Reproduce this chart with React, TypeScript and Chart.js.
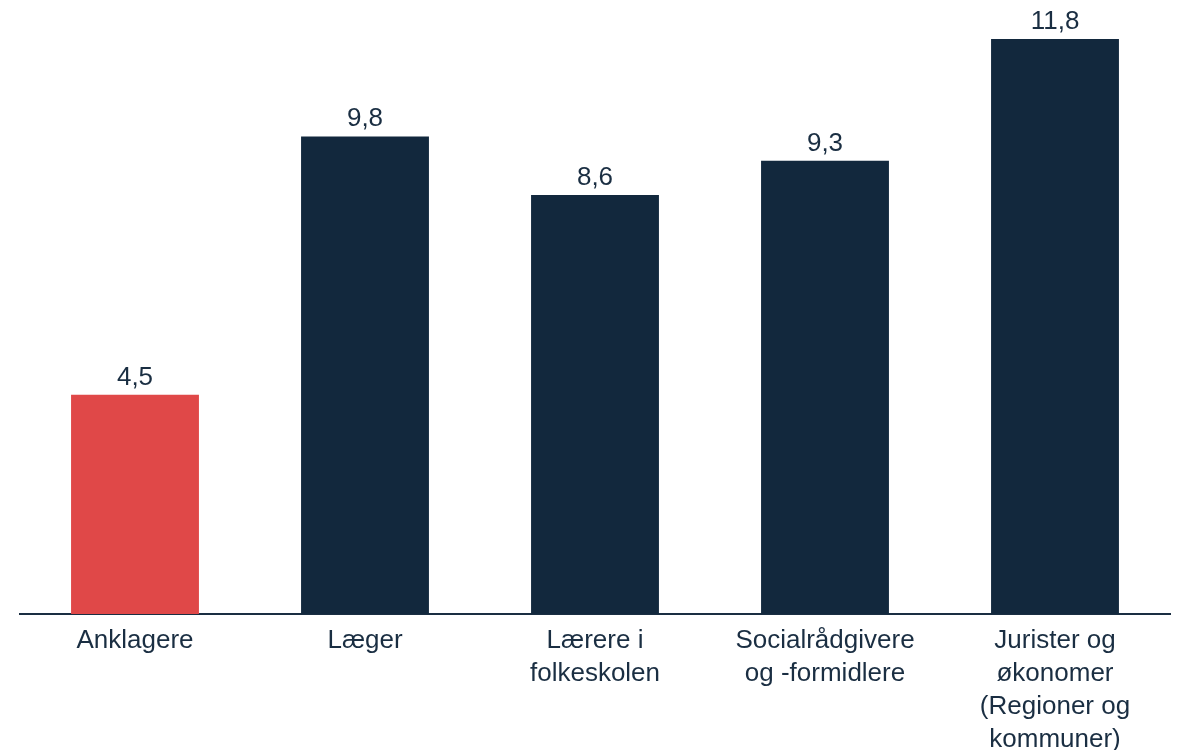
import React, { useEffect, useRef } from "react";
import { Chart, registerables } from "chart.js";

Chart.register(...registerables);

const categories: string[][] = [
  ["Anklagere"],
  ["Læger"],
  ["Lærere i", "folkeskolen"],
  ["Socialrådgivere", "og -formidlere"],
  ["Jurister og", "økonomer", "(Regioner og", "kommuner)"],
];
const values: number[] = [4.5, 9.8, 8.6, 9.3, 11.8];
const barColors: string[] = ["#E04848", "#12283D", "#12283D", "#12283D", "#12283D"];

const TEXT_COLOR = "#1A2E42";
const FONT = "'Liberation Sans', Arial, sans-serif";

const valueLabels = {
  id: "valueLabels",
  afterDatasetsDraw(chart: any) {
    const ctx = chart.ctx;
    const meta = chart.getDatasetMeta(0);
    ctx.save();
    ctx.font = `26px ${FONT}`;
    ctx.fillStyle = TEXT_COLOR;
    ctx.textAlign = "center";
    ctx.textBaseline = "alphabetic";
    meta.data.forEach((bar: any, i: number) => {
      const txt = values[i].toFixed(1).replace(".", ",");
      ctx.fillText(txt, bar.x, bar.y - 10);
    });
    ctx.restore();
  },
};

export default function App() {
  const ref = useRef<HTMLCanvasElement>(null);
  useEffect(() => {
    if (!ref.current) return;
    const chart = new Chart(ref.current, {
      type: "bar",
      data: {
        labels: categories,
        datasets: [
          {
            data: values,
            backgroundColor: barColors,
            barPercentage: 0.556,
            categoryPercentage: 1,
          },
        ],
      },
      options: {
        animation: false,
        responsive: true,
        maintainAspectRatio: false,
        layout: { padding: { left: 20, right: 8, top: 0, bottom: 0 } },
        plugins: { legend: { display: false }, tooltip: { enabled: false } },
        scales: {
          x: {
            grid: { display: false, drawTicks: false },
            border: { display: true, color: "#1A2E42", width: 2 },
            ticks: {
              color: TEXT_COLOR,
              font: { family: FONT, size: 26, lineHeight: 1.27 },
              padding: 10,
              maxRotation: 0,
              autoSkip: false,
            },
            afterFit: (scale: any) => {
              scale.height = 136;
            },
          },
          y: {
            display: false,
            min: 0,
            max: 12.6,
          },
        },
      },
      plugins: [valueLabels],
    });
    return () => chart.destroy();
  }, []);
  return (
    <div style={{ position: "absolute", left: 0, top: 0, width: 1178, height: 750, background: "#fff" }}>
      <canvas ref={ref} />
    </div>
  );
}
